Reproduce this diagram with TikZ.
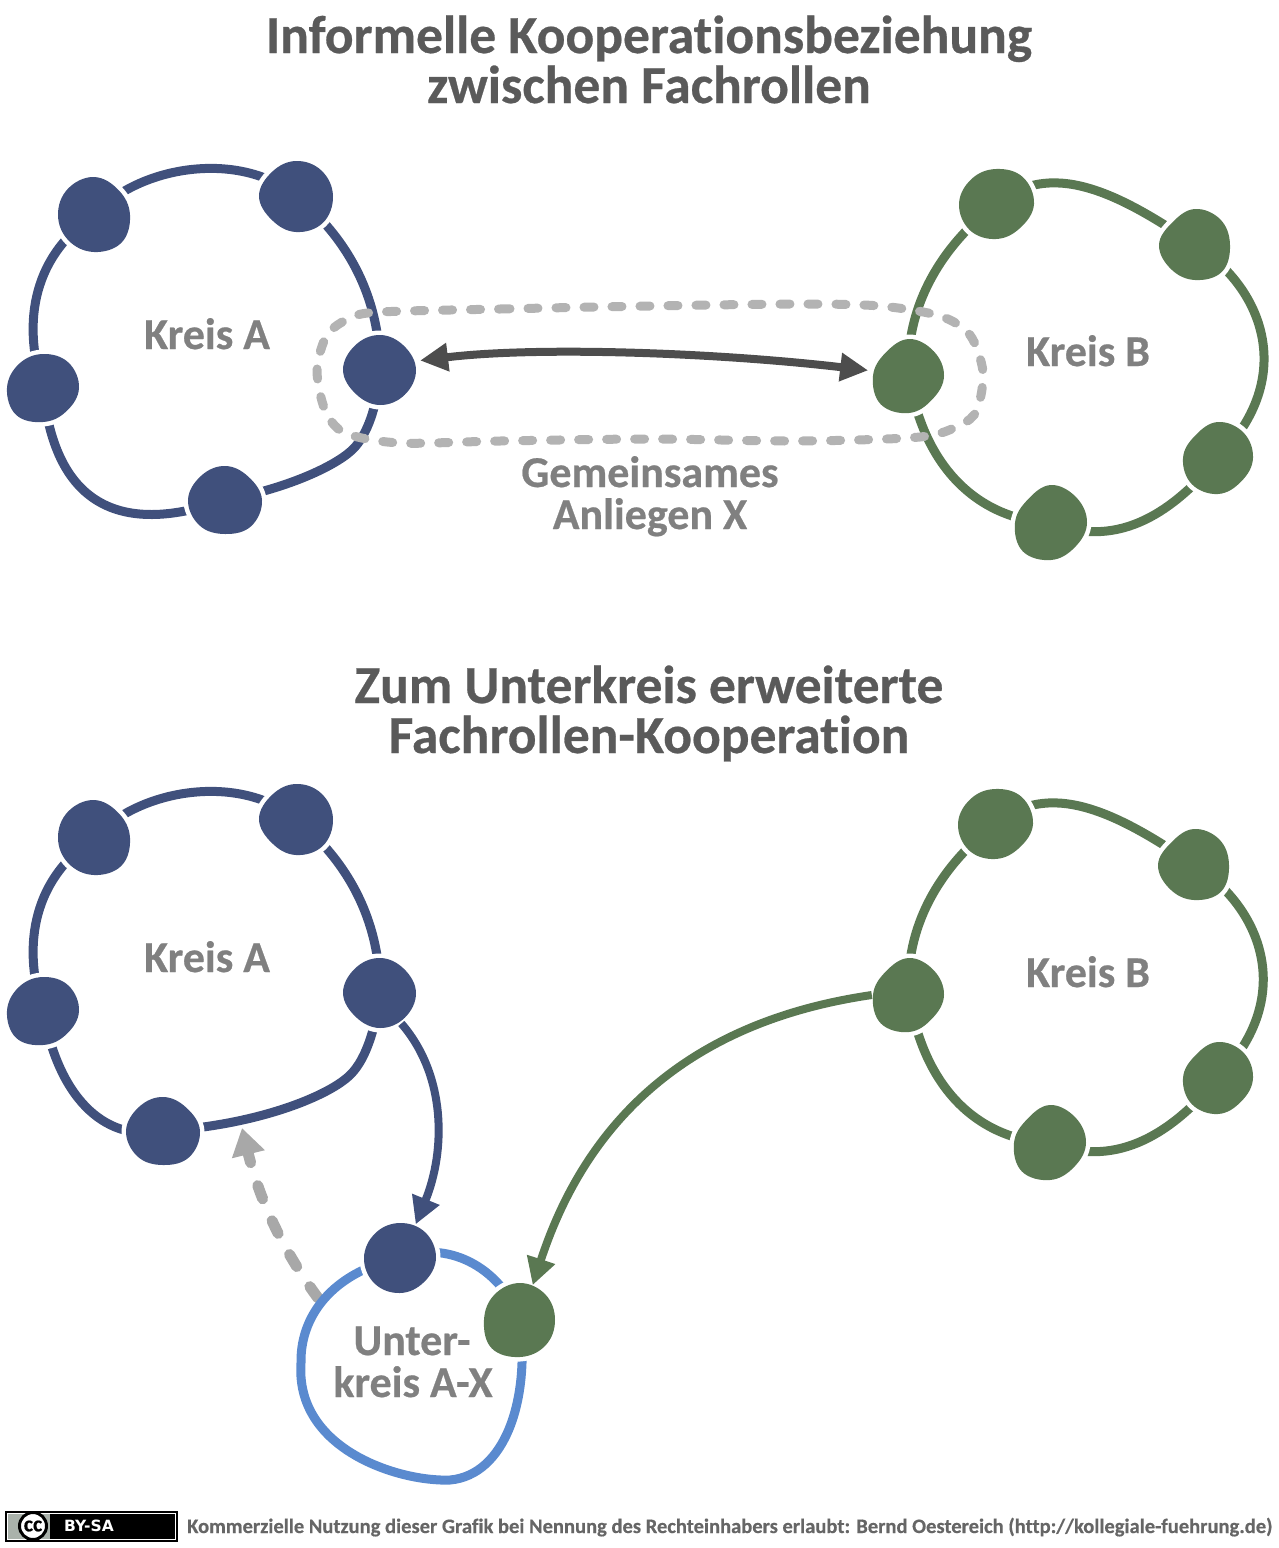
\documentclass[tikz,border=0pt]{standalone}
\usepackage{fontspec}
\setmainfont{Carlito}[Ligatures=NoCommon,BoldFeatures={FakeBold=0.5}]
\newfontfamily\ccfont{DejaVu Sans}
\usetikzlibrary{arrows.meta}
\definecolor{kblue}{HTML}{40507C}
\definecolor{kgreen}{HTML}{5A7852}
\definecolor{klight}{HTML}{5A8ACF}
\definecolor{kdark}{HTML}{4D4D4D}
\definecolor{kdash}{HTML}{B3B3B3}
\definecolor{kdash2}{HTML}{A8A8A8}
\definecolor{ktitle}{HTML}{5A5A5A}
\definecolor{klabel}{HTML}{808080}
\definecolor{kfoot}{HTML}{666666}
\definecolor{kcc}{HTML}{AAB2AB}
\newcommand\blob[3]{\def\bname{#1}\def\bcol{#2}\blobb #3;}
\def\blobb#1,#2,#3,#4,#5,#6,#7,#8;{%
  \begin{scope}[shift={(\bname)}]
  \path[draw=white,line width=9,line join=round] plot[smooth cycle,tension=0.68] coordinates {(0:#1) (45:#2) (90:#3) (135:#4) (180:#5) (225:#6) (270:#7) (315:#8)};
  \path[fill=\bcol] plot[smooth cycle,tension=0.68] coordinates {(0:#1) (45:#2) (90:#3) (135:#4) (180:#5) (225:#6) (270:#7) (315:#8)};
  \end{scope}}
\tikzset{
  hub/.style={circle,minimum size=74,inner sep=0,draw=none},
  ring/.style={line width=9,draw=#1},
  title/.style={anchor=base,font=\fontsize{53.5}{55}\selectfont\bfseries,text=ktitle,inner sep=0},
  lab/.style={anchor=base,font=\fontsize{44}{46}\selectfont\bfseries,text=klabel,inner sep=0},
  head/.style={-{Triangle[length=27,width=28]}},
}
\begin{document}
\begin{tikzpicture}[x=1pt,y=-1pt]
\useasboundingbox (0,0) rectangle (1278,1548);
% hubs upper
\node[hub] (a1) at (94,215) {};
\node[hub] (a2) at (296,196) {};
\node[hub] (a3) at (380,370) {};
\node[hub] (a4) at (225,500) {};
\node[hub] (a5) at (43,388) {};
\node[hub] (b1) at (996,204) {};
\node[hub] (b2) at (1195,245) {};
\node[hub] (b3) at (1218,458) {};
\node[hub] (b4) at (1051,523) {};
\node[hub] (b5) at (909,376) {};
% hubs lower
\node[hub] (la1) at (94,838) {};
\node[hub] (la2) at (296,819) {};
\node[hub] (la3) at (380,993) {};
\node[hub] (la4) at (163,1131) {};
\node[hub] (la5) at (43,1011) {};
\node[hub] (lb1) at (995,824) {};
\node[hub] (lb2) at (1194,865) {};
\node[hub] (lb3) at (1218,1078) {};
\node[hub] (lb4) at (1050,1143) {};
\node[hub] (lb5) at (909,995) {};
\node[hub] (c1) at (400,1258) {};
\node[hub] (c2) at (520,1320) {};
\coordinate (gstart) at (318,1298);
\coordinate (gend) at (242,1128);
% rings upper
\draw[ring=kblue] (a1.center) .. controls (140,165) and (240,150) .. (a2.center);
\draw[ring=kblue] (a2.center) .. controls (350,240) and (380,300) .. (a3.center);
\draw[ring=kblue] (a3.center) .. controls (378,400) and (370,430) .. (355,447) .. controls (340,464) and (290,488) .. (a4.center);
\draw[ring=kblue] (a4.center) .. controls (125,535) and (55,510) .. (a5.center);
\draw[ring=kblue] (a5.center) .. controls (24,330) and (28,260) .. (a1.center);
\draw[ring=kgreen] (b1.center) .. controls (1050,160) and (1115,190) .. (b2.center);
\draw[ring=kgreen] (b2.center) .. controls (1260,285) and (1300,375) .. (b3.center);
\draw[ring=kgreen] (b3.center) .. controls (1175,510) and (1120,550) .. (b4.center);
\draw[ring=kgreen] (b4.center) .. controls (985,520) and (925,475) .. (b5.center);
\draw[ring=kgreen] (b5.center) .. controls (905,320) and (930,255) .. (b1.center);
% dashed
\draw[kdash,line width=9,line cap=round,dash pattern=on 10 off 18] plot[smooth cycle] coordinates {(380,312) (500,309) (650,306) (800,304) (880,306) (940,316) (970,335) (983,372) (977,410) (960,425) (920,437) (800,441) (650,439) (500,441) (400,443) (345,433) (325,410) (317,370) (327,335) (350,318)};
% rings lower
\draw[ring=kblue] (la1.center) .. controls (140,788) and (240,773) .. (la2.center);
\draw[ring=kblue] (la2.center) .. controls (350,863) and (380,923) .. (la3.center);
\draw[ring=kblue] (la3.center) .. controls (377,1020) and (368,1058) .. (350,1075) .. controls (330,1095) and (260,1125) .. (la4.center);
\draw[ring=kblue] (la4.center) .. controls (110,1142) and (60,1105) .. (la5.center);
\draw[ring=kblue] (la5.center) .. controls (24,953) and (28,883) .. (la1.center);
\draw[ring=kgreen] (lb1.center) .. controls (1049,780) and (1114,810) .. (lb2.center);
\draw[ring=kgreen] (lb2.center) .. controls (1259,905) and (1299,995) .. (lb3.center);
\draw[ring=kgreen] (lb3.center) .. controls (1175,1130) and (1119,1170) .. (lb4.center);
\draw[ring=kgreen] (lb4.center) .. controls (984,1140) and (925,1095) .. (lb5.center);
\draw[ring=kgreen] (lb5.center) .. controls (905,939) and (929,875) .. (lb1.center);
% gray arrow
\draw[kdash2,line width=11,line cap=round,dash pattern=on 14 off 24,-{Triangle[length=27,width=32]}] (gstart) .. controls (290,1260) and (262,1210) .. (gend);
% sub ring
\draw[ring=klight] (c1.center) .. controls (445,1240) and (500,1265) .. (c2.center);
\draw[ring=klight] (c2.center) .. controls (530,1400) and (505,1475) .. (450,1480) .. controls (400,1482) and (295,1450) .. (301,1363) .. controls (300,1310) and (340,1270) .. (c1.center);
% blobs
\blob{a1}{kblue}{36,39,37,36,36,37,38,35}
\blob{a2}{kblue}{37,38,36,34,37,34,35,36}
\blob{a3}{kblue}{36,35,35,34,37,35,35,34}
\blob{a4}{kblue}{37,37,34,36,37,34,34,33}
\blob{a5}{kblue}{36,33,34,38,36,34,34,36}
\blob{b1}{kgreen}{38,34,35,37,37,35,35,38}
\blob{b2}{kgreen}{35,38,35,34,36,32,36,36}
\blob{b3}{kgreen}{35,33,36,37,35,32,36,36}
\blob{b4}{kgreen}{36,34,37,40,36,33,38,36}
\blob{b5}{kgreen}{35,33,37,40,36,33,37,35}
\blob{la1}{kblue}{36,39,37,36,36,37,38,35}
\blob{la2}{kblue}{37,38,36,34,37,34,35,36}
\blob{la3}{kblue}{36,35,35,34,37,35,35,34}
\blob{la4}{kblue}{37,37,34,36,37,34,34,33}
\blob{la5}{kblue}{36,33,34,38,36,34,34,36}
\blob{lb1}{kgreen}{38,34,35,37,37,35,35,38}
\blob{lb2}{kgreen}{35,38,35,34,36,32,36,36}
\blob{lb3}{kgreen}{35,33,36,37,35,32,36,36}
\blob{lb4}{kgreen}{36,34,37,40,36,33,38,36}
\blob{lb5}{kgreen}{35,33,37,40,36,33,37,35}
\blob{c1}{kblue}{36,34,35,36,36,35,35,36}
\blob{c2}{kgreen}{35,36,37,40,36,36,37,36}
% arrows
\draw[kdark,line width=8,{Triangle[length=28,width=27]}-{Triangle[length=28,width=27]},shorten <=4,shorten >=4] (a3.14) .. controls (540,346) and (720,353) .. (b5.172);
\draw[kblue,line width=8,head] (la3.-55) .. controls (446,1075) and (446,1150) .. (c1.65);
\draw[kgreen,line width=8,head] (lb5.180) .. controls (700,1020) and (590,1110) .. (c2.70);
% texts
\node[title] (t1) at (649,53) {Informelle Kooperationsbeziehung};
\node[title] (t2) at (649,103) {zwischen Fachrollen};
\node[title] (t3) at (649,703) {Zum Unterkreis erweiterte};
\node[title] (t4) at (649,753) {Fachrollen-Kooperation};
\node[lab] (k1) at (207,349) {Kreis A};
\node[lab] (k2) at (1088,366) {Kreis B};
\node[lab] (k3) at (207,972) {Kreis A};
\node[lab] (k4) at (1088,987) {Kreis B};
\node[lab] (g1) at (650,487) {Gemeinsames};
\node[lab] (g2) at (650,529) {Anliegen X};
\node[lab] (u1) at (412,1355) {Unter-};
\node[lab] (u2) at (413,1397) {kreis A-X};
% badge
\node[draw=black,line width=1.5,fill=black,minimum width=172,minimum height=30,inner sep=0] (cc) at (91.5,1526.5) {};
\fill[white] (7,1513) rectangle (176,1540);
\fill[black] (8,1514) rectangle (175,1539);
\fill[kcc] (8,1514) rectangle (50,1539);
\node[circle,draw=black,line width=3,fill=white,minimum size=27,inner sep=0,font=\fontsize{22}{22}\selectfont\bfseries] (ccc) at (33,1526) {cc};
\node[inner sep=0,text=white,font=\ccfont\fontsize{15.5}{16}\selectfont\bfseries] (ccb) at (89,1526) {BY-SA};
\node[anchor=base west,inner sep=0,text=kfoot,font=\fontsize{20.55}{22}\selectfont\bfseries] (foot) at (187,1533) {Kommerzielle Nutzung dieser Grafik bei Nennung des Rechteinhabers erlaubt: Bernd Oestereich (http://kollegiale-fuehrung.de)};
\end{tikzpicture}
\end{document}
